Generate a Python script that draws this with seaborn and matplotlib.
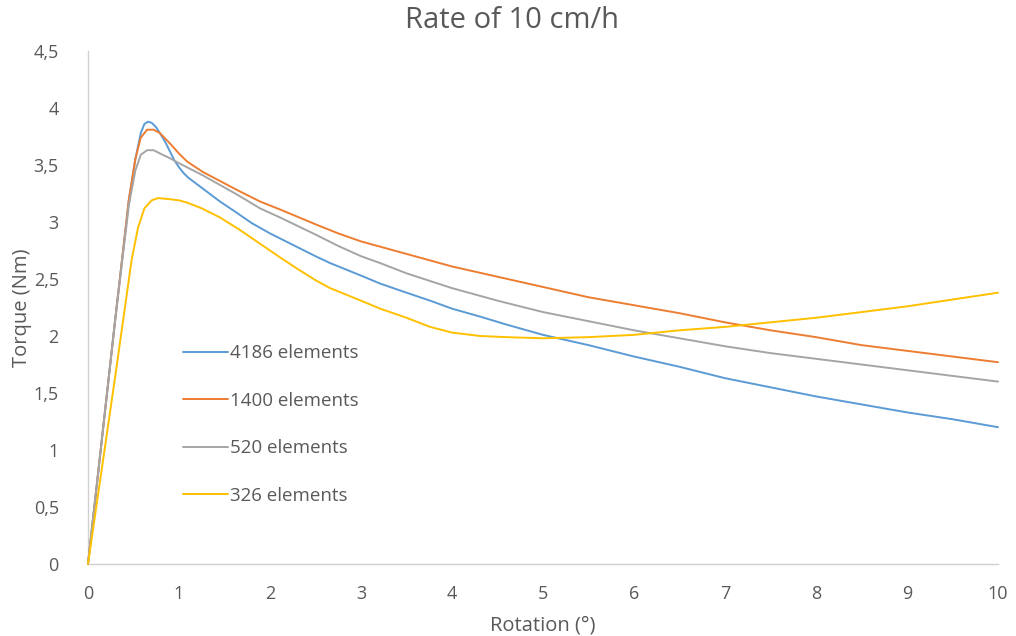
import matplotlib
matplotlib.use("Agg")
import matplotlib.pyplot as plt
import seaborn as sns
import pandas as pd

# Torque vs. rotation for four mesh densities
x_4186 = [0, 0.3, 0.45, 0.52, 0.58, 0.62, 0.66, 0.70, 0.75, 0.79, 0.85, 0.90, 0.95, 1.0, 1.05,
          1.1, 1.2, 1.3, 1.45, 1.6, 1.8, 2.0, 2.25, 2.5, 2.66, 3.0, 3.21, 3.5, 3.76, 4.0, 4.31,
          4.6, 5.0, 5.5, 6.0, 6.5, 7.0, 7.5, 8.0, 8.5, 9.0, 9.5, 10.0]
y_4186 = [0, 2.15, 3.2, 3.55, 3.78, 3.86, 3.88, 3.87, 3.83, 3.78, 3.70, 3.62, 3.54, 3.48, 3.43,
          3.39, 3.33, 3.27, 3.18, 3.10, 2.99, 2.90, 2.80, 2.70, 2.64, 2.53, 2.46, 2.38, 2.31,
          2.24, 2.17, 2.10, 2.01, 1.92, 1.82, 1.73, 1.63, 1.55, 1.47, 1.40, 1.33, 1.27, 1.20]

x_1400 = [0, 0.3, 0.45, 0.52, 0.58, 0.65, 0.72, 0.79, 0.90, 1.0, 1.09, 1.26, 1.45, 1.64, 1.89,
          2.11, 2.5, 2.75, 3.0, 3.5, 4.0, 4.5, 5.0, 5.5, 6.0, 6.5, 7.0, 7.5, 8.0, 8.5,
          9.0, 9.5, 10.0]
y_1400 = [0, 2.15, 3.2, 3.55, 3.74, 3.81, 3.81, 3.78, 3.69, 3.60, 3.53, 3.44, 3.36, 3.28, 3.18,
          3.11, 2.98, 2.90, 2.83, 2.72, 2.61, 2.52, 2.43, 2.34, 2.27, 2.20, 2.12, 2.05,
          1.99, 1.92, 1.87, 1.82, 1.77]

x_520 = [0, 0.3, 0.45, 0.52, 0.58, 0.65, 0.72, 0.82, 0.90, 0.99, 1.26, 1.64, 1.89, 2.11, 2.5,
         2.75, 3.0, 3.21, 3.5, 4.0, 4.5, 5.0, 5.5, 6.0, 6.5, 7.0, 7.5, 8.0, 8.5, 9.0, 9.5, 10.0]
y_520 = [0, 2.15, 3.15, 3.45, 3.59, 3.63, 3.63, 3.59, 3.56, 3.52, 3.41, 3.24, 3.12, 3.04, 2.89,
         2.79, 2.70, 2.64, 2.55, 2.42, 2.31, 2.21, 2.13, 2.05, 1.98, 1.91, 1.85, 1.80, 1.75,
         1.70, 1.65, 1.60]

x_326 = [0, 0.3, 0.48, 0.55, 0.62, 0.70, 0.77, 0.90, 1.0, 1.09, 1.25, 1.45, 1.67, 1.89, 2.11,
         2.3, 2.5, 2.66, 3.0, 3.21, 3.5, 3.76, 4.0, 4.31, 4.6, 5.0, 5.5, 6.0, 6.5, 7.0, 7.5,
         8.0, 8.5, 9.0, 9.5, 10.0]
y_326 = [0, 1.65, 2.67, 2.95, 3.12, 3.19, 3.21, 3.20, 3.19, 3.17, 3.12, 3.04, 2.93, 2.81, 2.69,
         2.59, 2.49, 2.42, 2.31, 2.24, 2.16, 2.08, 2.03, 2.00, 1.99, 1.98, 1.99, 2.01, 2.05,
         2.08, 2.12, 2.16, 2.21, 2.26, 2.32, 2.38]

series_labels = ["4186 elements", "1400 elements", "520 elements", "326 elements"]
series_colors = ["#5B9BD5", "#ED7D31", "#A5A5A5", "#FFC000"]

y_ticks = [0, 0.5, 1, 1.5, 2, 2.5, 3, 3.5, 4, 4.5]
y_tick_labels = ["0", "0,5", "1", "1,5", "2", "2,5", "3", "3,5", "4", "4,5"]
x_ticks = list(range(0, 11))

sns.set_theme(style="white")
plt.rcParams["font.family"] = ["Open Sans", "DejaVu Sans"]

text_color = "#595959"
fig = plt.figure(figsize=(10.16, 6.36), dpi=100)
ax = fig.add_axes([0.0866, 0.1132, 0.8957, 0.8066])

for xs, ys, lab, col in zip([x_4186, x_1400, x_520, x_326],
                            [y_4186, y_1400, y_520, y_326],
                            series_labels, series_colors):
    df = pd.DataFrame({"x": xs, "y": ys})
    sns.lineplot(data=df, x="x", y="y", ax=ax, color=col, linewidth=1.4,
                 sort=False, estimator=None, label=lab)

# let the curves reach the axis corner without being cut by the clip box
for line in ax.lines:
    line.set_clip_on(False)
    line.set_zorder(3)

ax.set_xlim(0, 10)
ax.set_ylim(0, 4.5)
ax.set_xticks(x_ticks)
ax.set_xticklabels([str(v) for v in x_ticks])
ax.set_yticks(y_ticks)
ax.set_yticklabels(y_tick_labels)
ax.tick_params(axis="both", length=0, labelsize=13, labelcolor=text_color)
ax.tick_params(axis="x", pad=15)
ax.tick_params(axis="y", pad=21)

for side in ["top", "right"]:
    ax.spines[side].set_visible(False)
for side in ["left", "bottom"]:
    ax.spines[side].set_color("#D0D0D0")
    ax.spines[side].set_linewidth(1.0)

ax.set_xlabel("Rotation (°)", fontsize=14.5, color=text_color, labelpad=9)
ax.set_ylabel("Torque (Nm)", fontsize=14.5, color=text_color, labelpad=1)

fig.suptitle("Rate of 10 cm/h", x=0.504, y=0.99, fontsize=21, color=text_color)

ax.legend(loc="upper left", bbox_to_anchor=(0.180, 0.459), bbox_transform=fig.transFigure,
          frameon=False, fontsize=13.5, handlelength=2.4, handletextpad=0.1,
          labelspacing=1.58, borderpad=0, borderaxespad=0, labelcolor=text_color)

fig.savefig("out.png", dpi=100)
